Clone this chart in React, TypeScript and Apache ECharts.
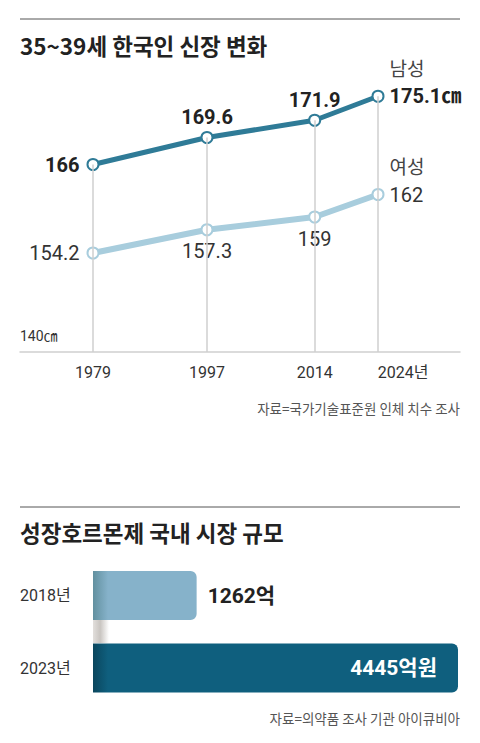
import React, { useEffect, useRef } from "react";
import * as echarts from "echarts";

// ---- data ----
const years = [1979, 1997, 2014, 2024];
const maleHeights = [166, 169.6, 171.9, 175.1];
const femaleHeights = [154.2, 157.3, 159, 162];
const seriesNames = ["남성", "여성"];
const yearSuffix = "년";
const heightUnit = "㎝";
const baseTickLabel = "140㎝";
const title1 = "35~39세 한국인 신장 변화";
const source1 = "자료=국가기술표준원 인체 치수 조사";

const marketYears = ["2018년", "2023년"];
const marketValues = [1262, 4445];
const marketUnits = ["억", "억원"];
const title2 = "성장호르몬제 국내 시장 규모";
const source2 = "자료=의약품 조사 기관 아이큐비아";

const NUM = "Roboto, 'Noto Sans CJK KR', sans-serif";
const KR = "'Noto Sans CJK KR', sans-serif";

const malePos = ["left", "top", "top", "right"];
const femalePos = ["left", "bottom", "bottom", "right"];

export default function App() {
  const ref = useRef<HTMLDivElement>(null);
  useEffect(() => {
    if (!ref.current) return;
    const chart = echarts.init(ref.current, undefined, { renderer: "svg" });
    const last = years.length - 1;

    const maleData = maleHeights.map((v, i) => ({
      value: [years[i], v],
      label: {
        show: true,
        position: malePos[i],
        distance: i === 0 ? 7 : i === last ? 5 : 4,
        fontFamily: NUM,
        fontSize: 20,
        fontWeight: "bold",
        color: "#222",
        formatter:
          i === last
            ? `{n|${seriesNames[0]}}\n{v|${v}${heightUnit}}\n{e| }`
            : `${v}`,
        rich:
          i === last
            ? {
                n: { fontFamily: KR, fontSize: 19, fontWeight: "normal", color: "#444", lineHeight: 34 },
                v: { fontFamily: NUM, fontSize: 20, fontWeight: "bold", color: "#222", lineHeight: 24 },
                e: { fontSize: 8, lineHeight: 34 },
              }
            : undefined,
      },
    }));

    const femaleData = femaleHeights.map((v, i) => ({
      value: [years[i], v],
      label: {
        show: true,
        position: femalePos[i],
        distance: i === 0 ? 7 : i === last ? 5 : 5,
        fontFamily: NUM,
        fontSize: 20,
        color: "#333",
        formatter:
          i === last ? `{n|${seriesNames[1]}}\n{v|${v}}\n{e| }` : `${v}`,
        rich:
          i === last
            ? {
                n: { fontFamily: KR, fontSize: 19, color: "#444", lineHeight: 34 },
                v: { fontFamily: NUM, fontSize: 20, color: "#333", lineHeight: 24 },
                e: { fontSize: 8, lineHeight: 34 },
              }
            : undefined,
      },
    }));

    const barColors = [
      ["#62909f", "#86b2ca"],
      ["#0a465d", "#0f5f7e"],
    ];

    const barData = marketValues.map((v, i) => ({
      value: v,
      itemStyle: {
        color: new echarts.graphic.LinearGradient(
          93, 0, 108, 0,
          [
            { offset: 0, color: barColors[i][0] },
            { offset: 1, color: barColors[i][1] },
          ],
          true
        ),
        borderRadius: [0, 6, 6, 0],
      },
      label: {
        show: true,
        position: i === 0 ? "right" : "insideRight",
        distance: i === 0 ? 11 : 21,
        fontFamily: NUM,
        fontSize: 21,
        fontWeight: "bold",
        color: i === 0 ? "#222" : "#fff",
        formatter: `${v}${marketUnits[i]}`,
      },
    }));

    chart.setOption({
      animation: false,
      backgroundColor: "#fff",
      grid: [
        { left: 20, right: 20, top: 59.5, bottom: 391 },
        { left: 93, right: 22, top: 559.25, bottom: 38.75 },
      ],
      xAxis: [
        {
          gridIndex: 0,
          type: "value",
          min: 1967.474,
          max: 2036.947,
          splitLine: { show: false },
          axisTick: { show: false },
          axisLine: { show: true, lineStyle: { color: "#cfcfcf", width: 1.5 } },
          axisLabel: {
            customValues: years,
            margin: 12,
            fontFamily: NUM,
            fontSize: 16,
            color: "#333",
            formatter: (val: number) =>
              val === years[last] ? `{r|${val}${yearSuffix}}` : `${val}`,
            rich: {
              r: { fontFamily: NUM, fontSize: 16, color: "#333", padding: [0, 0, 0, 50] },
            },
          },
        },
        {
          gridIndex: 1,
          type: "value",
          min: 0,
          max: marketValues[1],
          show: false,
        },
      ],
      yAxis: [
        {
          gridIndex: 0,
          type: "value",
          min: 141,
          max: 180,
          show: false,
        },
        {
          gridIndex: 1,
          type: "category",
          data: marketYears,
          inverse: true,
          axisLine: { show: false },
          axisTick: { show: false },
          axisLabel: {
            align: "left",
            margin: 73,
            fontFamily: NUM,
            fontSize: 16,
            color: "#333",
          },
        },
      ],
      series: [
        {
          type: "line",
          xAxisIndex: 0,
          yAxisIndex: 0,
          data: [],
          z: 1,
          silent: true,
          markLine: {
            symbol: "none",
            silent: true,
            label: { show: false },
            lineStyle: { color: "#cfcfcf", width: 1.5, type: "solid" },
            data: years.map((y, i) => [
              { coord: [y, 141] },
              { coord: [y, maleHeights[i]] },
            ]),
          },
        },
        {
          name: seriesNames[1],
          type: "line",
          xAxisIndex: 0,
          yAxisIndex: 0,
          z: 3,
          data: femaleData,
          symbol: "circle",
          symbolSize: 11,
          lineStyle: { color: "#a8cddd", width: 6 },
          itemStyle: { color: "#fff", borderColor: "#a8cddd", borderWidth: 2 },
        },
        {
          name: seriesNames[0],
          type: "line",
          xAxisIndex: 0,
          yAxisIndex: 0,
          z: 4,
          data: maleData,
          symbol: "circle",
          symbolSize: 11,
          lineStyle: { color: "#2f7b97", width: 5 },
          itemStyle: { color: "#fff", borderColor: "#2f7b97", borderWidth: 2 },
        },
        {
          type: "bar",
          xAxisIndex: 1,
          yAxisIndex: 1,
          barWidth: 49,
          data: barData,
        },
      ],
      graphic: [
        { type: "line", shape: { x1: 20, y1: 19, x2: 460, y2: 19 }, style: { stroke: "#555", lineWidth: 1 } },
        {
          type: "text",
          x: 20,
          y: 45,
          style: { text: title1, font: `bold 22.5px ${KR}`, fill: "#222", textVerticalAlign: "middle" },
        },
        {
          type: "text",
          x: 20,
          y: 336,
          style: { text: baseTickLabel, font: `14px ${NUM}`, fill: "#333", textVerticalAlign: "middle" },
        },
        {
          type: "text",
          x: 460,
          y: 408,
          style: { text: source1, font: `13.5px ${KR}`, fill: "#555", textAlign: "right", textVerticalAlign: "middle" },
        },
        { type: "line", shape: { x1: 20, y1: 507, x2: 460, y2: 507 }, style: { stroke: "#555", lineWidth: 1 } },
        {
          type: "text",
          x: 20,
          y: 532,
          style: { text: title2, font: `bold 22.5px ${KR}`, fill: "#222", textVerticalAlign: "middle" },
        },
        {
          type: "rect",
          shape: { x: 93, y: 620, width: 16, height: 23 },
          style: {
            fill: new echarts.graphic.LinearGradient(0, 0, 1, 0, [
              { offset: 0, color: "#e2dfdc" },
              { offset: 0.45, color: "#c9c5c1" },
              { offset: 1, color: "#ffffff" },
            ]),
          },
          z: -1,
        },
        {
          type: "text",
          x: 460,
          y: 718,
          style: { text: source2, font: `13.5px ${KR}`, fill: "#555", textAlign: "right", textVerticalAlign: "middle" },
        },
      ],
    });
    return () => chart.dispose();
  }, []);
  return (
    <div
      ref={ref}
      style={{ position: "fixed", left: 0, top: 0, width: 480, height: 743 }}
    />
  );
}
